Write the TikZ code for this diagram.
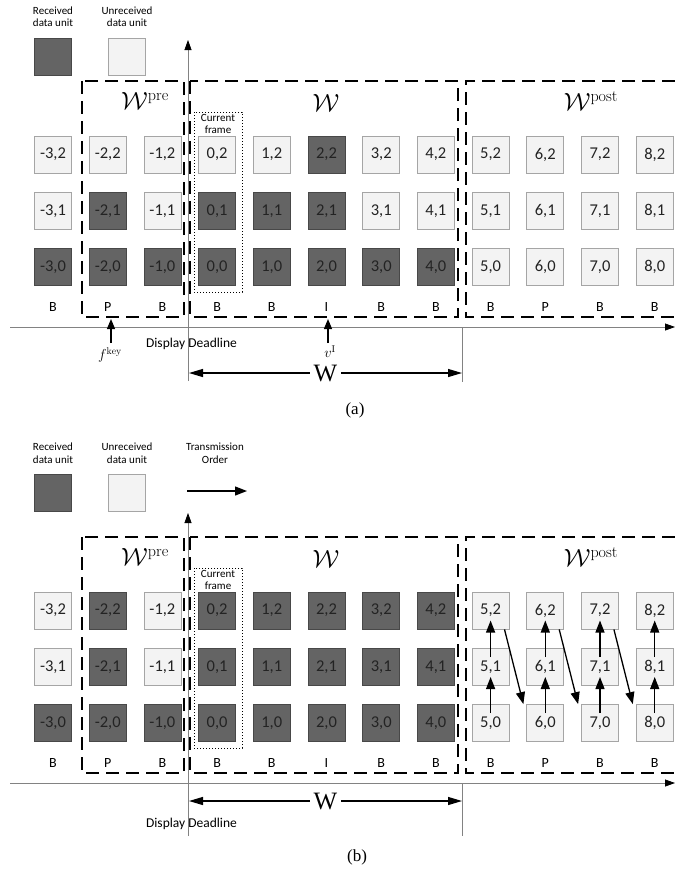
\documentclass[tikz,border=0pt]{standalone}
\usepackage{fontspec}
\usepackage{amsmath}
\newfontfamily\guifont{Carlito}
\newfontfamily\capfont{Liberation Serif}
\definecolor{unitD}{RGB}{100,100,100}
\definecolor{unitDedge}{RGB}{72,72,72}
\definecolor{unitL}{RGB}{243,243,243}
\definecolor{unitLedge}{RGB}{165,165,165}
\definecolor{unittext}{RGB}{35,35,35}
\definecolor{axisgray}{RGB}{130,130,130}
\usetikzlibrary{arrows.meta,calc}

\begin{document}
\begin{tikzpicture}[x=1pt, y=-1pt,
  unitbox/.style={minimum size=37pt, inner sep=0pt, line width=0.8pt, text=unittext,
    font=\guifont\fontsize{16.5}{16.5}\selectfont},
  unit/.style={unitbox, fill=unit#1, draw=unit#1edge},
  legend/.style={align=center, font=\guifont\fontsize{11}{12.5}\selectfont},
  winbox/.style={line width=1.8pt, dash pattern=on 13pt off 7pt},
  winlabel/.style={font=\fontsize{23}{23}\selectfont},
  curframe/.style={line width=1pt, dotted},
  ftype/.style={font=\guifont\fontsize{14}{14}\selectfont},
  deadline/.style={font=\guifont\fontsize{13.5}{13.5}\selectfont},
  axisline/.style={axisgray, line width=0.8pt},
  axistip/.style={-{Triangle[length=10pt,width=7pt,color=black]}},
  markarrow/.style={-{Triangle[length=10pt,width=8pt]}, line width=1.2pt},
  spanarrow/.style={{Triangle[length=14pt,width=8pt]}-{Triangle[length=14pt,width=8pt]}, line width=1.2pt},
  spanlabel/.style={fill=white, inner xsep=4pt, inner ysep=0pt, font=\capfont\fontsize{25}{25}\selectfont},
  sendorder/.style={-{Triangle[length=12pt,width=9pt]}, line width=1.3pt},
  caption/.style={font=\capfont\fontsize{17}{17}\selectfont}]
\useasboundingbox (0,0) rectangle (675,871);

% ---------------- (a) ----------------
% Legend
\node[legend] (aRecTxt) at (53,16.5) {Received\\data unit};
\node[unit=D] (aRec) at (53,56.5) {};
\node[legend] (aUnrecTxt) at (127,16.5) {Unreceived\\data unit};
\node[unit=L] (aUnrec) at (127,56.5) {};

% Time axis and display deadline
\coordinate (aAxisL) at (10,327);
\coordinate (aAxisR) at (675,327);
\coordinate (aDeadTop) at (188,40);
\coordinate (aDeadBot) at (188,381);
\coordinate (aWinEnd) at (462,327);
\coordinate (aWinEndBot) at (462,382);
\draw[axisline, axistip] (aAxisL) -- (aAxisR);
\draw[axisline, axistip] (aDeadBot) -- (aDeadTop);
\draw[axisline] (aWinEnd) -- (aWinEndBot);

% Windows
\draw[winbox] (82,81) rectangle (184,317);
\draw[winbox] (190,81) rectangle (458,317);
\draw[winbox] (675,81) -- (466,81) -- (466,317) -- (675,317);
\node[winlabel] (aWpre) at (145,101) {$\mathcal{W}^{\mathrm{pre}}$};
\node[winlabel] (aW) at (326,103) {$\mathcal{W}$};
\node[winlabel] (aWpost) at (591,101) {$\mathcal{W}^{\mathrm{post}}$};

% Current frame
\draw[curframe] (194,112) rectangle (242,292);
\node[legend] (aCur) at (218,124) {Current\\frame};

% Data units
\foreach \s [count=\i from -3] in {L,L,L,L,L,D,L,L,L,L,L,L}
  \node[unit=\s] (a\i-2) at ({53+54.7*(\i+3)},154.5) {\i,2};
\foreach \s [count=\i from -3] in {L,D,L,D,D,D,L,L,L,L,L,L}
  \node[unit=\s] (a\i-1) at ({53+54.7*(\i+3)},211) {\i,1};
\foreach \s [count=\i from -3] in {D,D,D,D,D,D,D,D,L,L,L,L}
  \node[unit=\s] (a\i-0) at ({53+54.7*(\i+3)},267) {\i,0};
\foreach \t [count=\i from -3] in {B,P,B,B,B,I,B,B,B,P,B,B}
  \node[ftype] (aT\i) at ({53+54.7*(\i+3)},307) {\t};

% Key frame and I frame marks
\coordinate (aFkeyBase) at (111,343);
\coordinate (aFkeyTip) at (111,319);
\node[font=\fontsize{14}{14}\selectfont] (aFkey) at (110,355) {$f^{\mathrm{key}}$};
\draw[markarrow] (aFkeyBase) -- (aFkeyTip);
\coordinate (aVBase) at (328,343);
\coordinate (aVTip) at (328,319);
\node[font=\fontsize{14}{14}\selectfont, inner sep=1pt] (aV) at (330,352) {$v^{\mathrm{I}}$};
\draw[markarrow] (aVBase) -- (aVTip);
\node[deadline] (aDead) at (191.5,344) {Display Deadline};

% Window span
\coordinate (aSpanL) at (189,373);
\coordinate (aSpanR) at (462,373);
\draw[spanarrow] (aSpanL) -- node[spanlabel] (aSpanW) {W} (aSpanR);
\node[caption] (aCap) at (355,410) {(a)};

% ---------------- (b) ----------------
% Legend
\node[legend] (bRecTxt) at (53,453) {Received\\data unit};
\node[unit=D] (bRec) at (53,492.5) {};
\node[legend] (bUnrecTxt) at (127,453) {Unreceived\\data unit};
\node[unit=L] (bUnrec) at (127,492.5) {};
\node[legend] (bSendTxt) at (215,453) {Transmission\\Order};
\coordinate (bSendL) at (187,491);
\coordinate (bSendR) at (247,491);
\draw[sendorder] (bSendL) -- (bSendR);

% Time axis and display deadline
\coordinate (bAxisL) at (10,783);
\coordinate (bAxisR) at (675,783);
\coordinate (bDeadTop) at (188,513);
\coordinate (bDeadBot) at (188,836);
\coordinate (bWinEnd) at (462,783);
\coordinate (bWinEndBot) at (462,836);
\draw[axisline, axistip] (bAxisL) -- (bAxisR);
\draw[axisline, axistip] (bDeadBot) -- (bDeadTop);
\draw[axisline] (bWinEnd) -- (bWinEndBot);

% Windows
\draw[winbox] (82,537) rectangle (184,773);
\draw[winbox] (190,537) rectangle (458,773);
\draw[winbox] (675,537) -- (466,537) -- (466,773) -- (675,773);
\node[winlabel] (bWpre) at (145,557) {$\mathcal{W}^{\mathrm{pre}}$};
\node[winlabel] (bW) at (326,559) {$\mathcal{W}$};
\node[winlabel] (bWpost) at (591,557) {$\mathcal{W}^{\mathrm{post}}$};

% Current frame
\draw[curframe] (194,568) rectangle (242,748);
\node[legend] (bCur) at (218,580) {Current\\frame};

% Data units
\foreach \s [count=\i from -3] in {L,D,L,D,D,D,D,D,L,L,L,L}
  \node[unit=\s] (b\i-2) at ({53+54.7*(\i+3)},610.5) {\i,2};
\foreach \s [count=\i from -3] in {L,D,L,D,D,D,D,D,L,L,L,L}
  \node[unit=\s] (b\i-1) at ({53+54.7*(\i+3)},667) {\i,1};
\foreach \s [count=\i from -3] in {D,D,D,D,D,D,D,D,L,L,L,L}
  \node[unit=\s] (b\i-0) at ({53+54.7*(\i+3)},723) {\i,0};
\foreach \t [count=\i from -3] in {B,P,B,B,B,I,B,B,B,P,B,B}
  \node[ftype] (bT\i) at ({53+54.7*(\i+3)},763) {\t};

% Transmission order of the post window
\foreach \f in {5,...,8} {
  \draw[sendorder] ([yshift=10pt]b\f-0.center) -- ([yshift=-10pt]b\f-1.center);
  \draw[sendorder] ([yshift=10pt]b\f-1.center) -- ([yshift=-10pt]b\f-2.center);
}
\foreach \f/\g in {5/6,6/7,7/8}
  \draw[sendorder] ([xshift=-5pt]b\f-2.south east) -- ([xshift=-3pt]b\g-0.north west);

% Window span
\coordinate (bSpanL) at (189,801);
\coordinate (bSpanR) at (462,801);
\draw[spanarrow] (bSpanL) -- node[spanlabel] (bSpanW) {W} (bSpanR);
\node[deadline] (bDead) at (191.5,824) {Display Deadline};
\node[caption] (bCap) at (357,857) {(b)};
\end{tikzpicture}
\end{document}
